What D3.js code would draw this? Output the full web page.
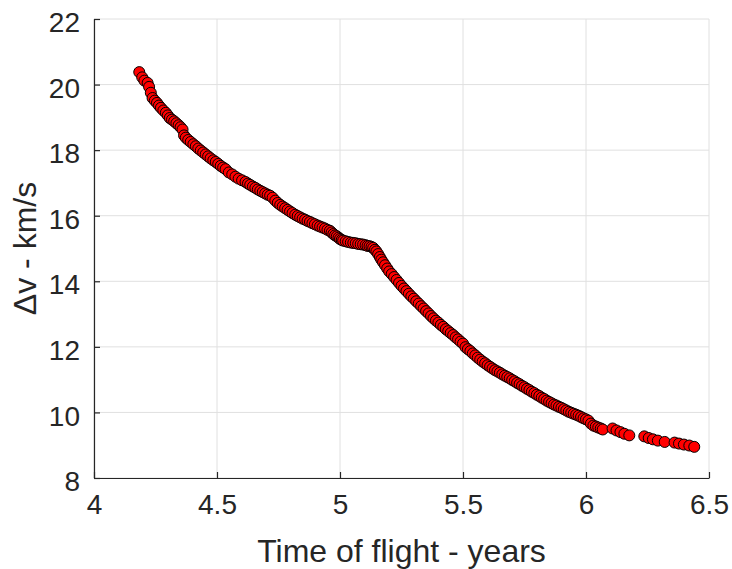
<!DOCTYPE html>
<html>
<head>
<meta charset="utf-8">
<script src="https://cdn.jsdelivr.net/npm/d3@7"></script>
<style>
  html, body { margin: 0; padding: 0; background: #fff; }
  svg { display: block; }
  text { font-family: "Liberation Sans", Arial, Helvetica, sans-serif; fill: #262626; }
</style>
</head>
<body>
<svg id="chart" width="732" height="569"></svg>
<script>
// Time of flight (years) for each transfer solution
const timeOfFlight = [
  4.184, 4.196, 4.205, 4.218, 4.224, 4.231, 4.238, 4.247, 4.256, 4.264,
  4.272, 4.282, 4.292, 4.300, 4.308, 4.317, 4.326, 4.335, 4.344, 4.352,
  4.360, 4.366, 4.373, 4.383, 4.393, 4.404, 4.414, 4.424, 4.434, 4.444,
  4.454, 4.464, 4.474, 4.485, 4.495, 4.505, 4.515, 4.525, 4.535, 4.548,
  4.562, 4.575, 4.588, 4.602, 4.616, 4.626, 4.635, 4.646, 4.656, 4.666,
  4.676, 4.686, 4.696, 4.706, 4.716, 4.726, 4.737, 4.747, 4.757, 4.767,
  4.777, 4.787, 4.797, 4.807, 4.818, 4.828, 4.838, 4.848, 4.858, 4.868,
  4.878, 4.888, 4.898, 4.909, 4.919, 4.929, 4.939, 4.949, 4.959, 4.966,
  4.973, 4.980, 4.987, 4.994, 5.000, 5.007, 5.013, 5.023, 5.033, 5.044,
  5.054, 5.064, 5.074, 5.084, 5.094, 5.104, 5.112, 5.120, 5.128, 5.135,
  5.142, 5.148, 5.155, 5.162, 5.168, 5.175, 5.183, 5.192, 5.200, 5.210,
  5.220, 5.230, 5.240, 5.250, 5.260, 5.270, 5.280, 5.290, 5.300, 5.310,
  5.320, 5.330, 5.340, 5.350, 5.360, 5.370, 5.380, 5.390, 5.400, 5.410,
  5.420, 5.430, 5.440, 5.450, 5.460, 5.470, 5.480, 5.490, 5.500, 5.510,
  5.520, 5.530, 5.540, 5.550, 5.560, 5.570, 5.580, 5.590, 5.600, 5.610,
  5.620, 5.630, 5.640, 5.650, 5.660, 5.670, 5.680, 5.690, 5.700, 5.710,
  5.720, 5.730, 5.740, 5.750, 5.760, 5.770, 5.780, 5.790, 5.800, 5.810,
  5.820, 5.830, 5.840, 5.850, 5.860, 5.870, 5.880, 5.890, 5.900, 5.910,
  5.920, 5.930, 5.940, 5.950, 5.960, 5.970, 5.980, 5.990, 6.000, 6.010,
  6.020, 6.030, 6.040, 6.050, 6.060, 6.068,
  6.108, 6.124, 6.140, 6.156, 6.176,
  6.237, 6.255, 6.272, 6.292, 6.320,
  6.360, 6.378, 6.398, 6.420, 6.440
];

// Total delta-v (km/s) for each transfer solution
const deltaV = [
  20.38, 20.22, 20.12, 20.05, 19.93, 19.75, 19.59, 19.51, 19.44, 19.36,
  19.29, 19.21, 19.14, 19.06, 18.98, 18.93, 18.88, 18.82, 18.76, 18.70,
  18.63, 18.45, 18.38, 18.31, 18.25, 18.18, 18.12, 18.05, 17.99, 17.93,
  17.87, 17.81, 17.75, 17.69, 17.64, 17.58, 17.52, 17.47, 17.42, 17.32,
  17.26, 17.19, 17.13, 17.08, 17.03, 16.98, 16.94, 16.89, 16.85, 16.80,
  16.76, 16.72, 16.68, 16.64, 16.61, 16.55, 16.46, 16.39, 16.33, 16.28,
  16.23, 16.18, 16.13, 16.08, 16.03, 15.99, 15.95, 15.91, 15.88, 15.84,
  15.81, 15.77, 15.74, 15.70, 15.67, 15.64, 15.61, 15.57, 15.54, 15.49,
  15.44, 15.40, 15.37, 15.33, 15.29, 15.26, 15.24, 15.22, 15.20, 15.18,
  15.17, 15.16, 15.14, 15.13, 15.12, 15.10, 15.08, 15.07, 15.05, 15.02,
  14.96, 14.91, 14.83, 14.74, 14.66, 14.58, 14.49, 14.39, 14.30, 14.22,
  14.13, 14.04, 13.95, 13.86, 13.78, 13.70, 13.62, 13.54, 13.47, 13.39,
  13.32, 13.24, 13.17, 13.09, 13.02, 12.94, 12.87, 12.80, 12.74, 12.67,
  12.61, 12.54, 12.48, 12.42, 12.36, 12.29, 12.23, 12.16, 12.10, 11.99,
  11.93, 11.87, 11.80, 11.74, 11.67, 11.61, 11.55, 11.50, 11.44, 11.39,
  11.34, 11.29, 11.25, 11.21, 11.16, 11.12, 11.08, 11.04, 10.99, 10.95,
  10.90, 10.86, 10.81, 10.77, 10.72, 10.68, 10.63, 10.59, 10.54, 10.50,
  10.45, 10.41, 10.36, 10.32, 10.28, 10.24, 10.21, 10.17, 10.14, 10.10,
  10.06, 10.02, 9.99, 9.96, 9.93, 9.90, 9.86, 9.82, 9.79, 9.75,
  9.66, 9.60, 9.57, 9.54, 9.51, 9.48,
  9.51, 9.45, 9.40, 9.35, 9.30,
  9.27, 9.22, 9.18, 9.14, 9.10,
  9.08, 9.05, 9.02, 8.99, 8.95
];

const xTicks = [4, 4.5, 5, 5.5, 6, 6.5];
const yTicks = [8, 10, 12, 14, 16, 18, 20, 22];

const margin = { left: 94, right: 23, top: 19, bottom: 91 };
const svg = d3.select("#chart");
const W = +svg.attr("width"), H = +svg.attr("height");
const innerW = W - margin.left - margin.right;
const innerH = H - margin.top - margin.bottom;

const x = d3.scaleLinear().domain([4, 6.5]).range([0, innerW]);
const y = d3.scaleLinear().domain([8, 22]).range([innerH, 0]);

const g = svg.append("g").attr("transform", `translate(${margin.left},${margin.top})`);

// grid lines
g.append("g").selectAll("line").data(xTicks).join("line")
  .attr("x1", d => x(d)).attr("x2", d => x(d))
  .attr("y1", 0).attr("y2", innerH)
  .attr("stroke", "#e0e0e0").attr("stroke-width", 1);
g.append("g").selectAll("line").data(yTicks).join("line")
  .attr("x1", 0).attr("x2", innerW)
  .attr("y1", d => y(d)).attr("y2", d => y(d))
  .attr("stroke", "#e0e0e0").attr("stroke-width", 1);

// axes with inward ticks
const xAxis = g.append("g").attr("transform", `translate(0,${innerH})`)
  .call(d3.axisBottom(x).tickValues(xTicks).tickFormat(d3.format("")).tickSizeInner(-6).tickSizeOuter(0).tickPadding(16));
const yAxis = g.append("g")
  .call(d3.axisLeft(y).tickValues(yTicks).tickFormat(d3.format("")).tickSizeInner(-6).tickSizeOuter(0).tickPadding(14));

[xAxis, yAxis].forEach(a => {
  a.select(".domain").attr("stroke", "#262626").attr("stroke-width", 1.2);
  a.selectAll(".tick line").attr("stroke", "#262626").attr("stroke-width", 1.2);
  a.selectAll(".tick text").attr("fill", "#262626")
    .style("font-family", '"Liberation Sans", Arial, sans-serif')
    .style("font-size", "28px");
});
yAxis.selectAll(".tick text").attr("dy", "0.45em");
xAxis.selectAll(".tick text").attr("dy", "0.71em");

// data markers
const pts = timeOfFlight.map((t, i) => ({ t, v: deltaV[i] }));
g.append("g").selectAll("circle").data(pts).join("circle")
  .attr("cx", d => x(d.t)).attr("cy", d => y(d.v))
  .attr("r", 5.5)
  .attr("fill", "#ff0000")
  .attr("stroke", "#000")
  .attr("stroke-width", 1);

// axis titles
svg.append("text")
  .attr("x", margin.left + innerW / 2).attr("y", 562)
  .attr("text-anchor", "middle")
  .style("font-size", "32px")
  .text("Time of flight - years");

svg.append("text")
  .attr("transform", `translate(36,${margin.top + innerH / 2}) rotate(-90)`)
  .attr("text-anchor", "middle")
  .style("font-size", "32px")
  .text("Δv - km/s");
</script>
</body>
</html>
